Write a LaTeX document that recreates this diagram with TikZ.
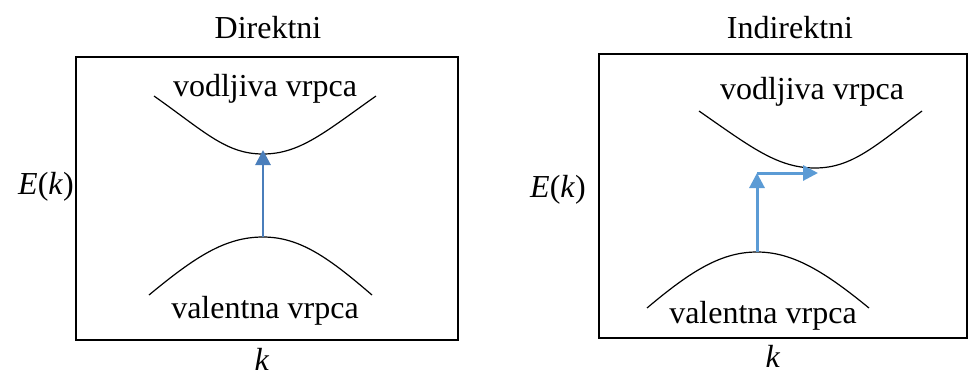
\documentclass[tikz,border=0pt]{standalone}
\usepackage{fontspec}
\setmainfont{Liberation Serif}
\newfontfamily\timesfont{Liberation Serif}
\usetikzlibrary{arrows.meta,positioning}

\definecolor{arrowDir}{HTML}{4A7EBB}
\definecolor{arrowInd}{HTML}{5B9BD5}

\begin{document}
\begin{tikzpicture}[
            x=1pt, y=-1pt,
            frame/.style={
                    draw=black,
                    line width=2.6pt
                },
            band/.style={
                    draw=black,
                    line width=1.2pt
                },
            label/.style={
                    font=\timesfont\fontsize{32}{38}\selectfont,
                    inner sep=0pt
                },
            arrowD/.style={
                    -{Triangle[length=15pt,width=15pt]},
                    color=arrowDir,
                    line width=2.8pt
                },
            arrowI/.style={
                    -{Triangle[length=15pt,width=15pt]},
                    color=arrowInd,
                    line width=3pt
                }
            ]
            \useasboundingbox (0,0) rectangle (969,378);

            % 1. Okviri
            \draw[frame] (76,57) rectangle (458,340);
            \draw[frame] (599,54) rectangle (967,338);

            % 2. Naslovi i osi
            \node[label] (titleDir) at (268,28) {Direktni};
            \node[label] (titleInd) at (790,28) {Indirektni};
            \node[label] (ekDir) at (46,187) {\textit{E}(\textit{k})};
            \node[label] (ekInd) at (558,190) {\textit{E}(\textit{k})};
            \node[label] (kDir) at (262,359) {\textit{k}};
            \node[label] (kInd) at (773,356) {\textit{k}};

            % 3. Direktni: vrpce
            \coordinate (minDir) at (263,154);
            \coordinate (maxDir) at (263,237);
            \draw[band] (154,96) .. controls (205,132) and (226,154) .. (minDir)
                .. controls (300,154) and (325,132) .. (376,96);
            \draw[band] (149,295) .. controls (195,257) and (225,237) .. (maxDir)
                .. controls (300,237) and (329,258) .. (372,295);
            \node[label] (condDir) at (265,89) {vodljiva vrpca};
            \node[label] (valDir) at (265,311) {valentna vrpca};

            % 4. Indirektni: vrpce
            \coordinate (minInd) at (815,168);
            \coordinate (maxInd) at (757,252);
            \draw[band] (699,111) .. controls (752,148) and (778,168) .. (minInd)
                .. controls (852,168) and (875,146) .. (922,111);
            \draw[band] (647,308) .. controls (692,270) and (722,252) .. (maxInd)
                .. controls (793,252) and (825,272) .. (869,308);
            \node[label] (condInd) at (812,92) {vodljiva vrpca};
            \node[label] (valInd) at (763,316) {valentna vrpca};

            % 5. Prijelazi
            \draw[arrowD] (maxDir) -- ([yshift=4pt]minDir);
            \coordinate (cornerInd) at (maxInd |- 0,173);
            \coordinate (endInd) at (818,173);
            \draw[arrowI] (maxInd) -- (cornerInd);
            \draw[arrowI] (cornerInd) -- (endInd);

        \end{tikzpicture}
\end{document}
